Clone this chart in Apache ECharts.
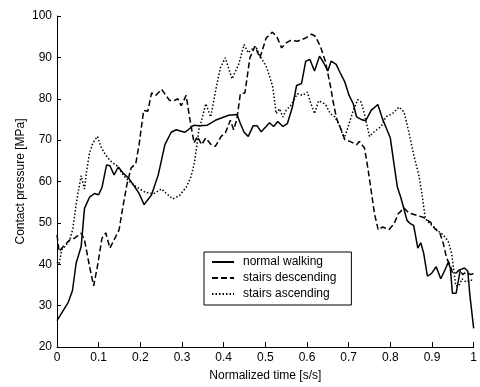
<!DOCTYPE html>
<html>
<head>
<meta charset="utf-8">
<script src="https://cdn.jsdelivr.net/npm/echarts@6/dist/echarts.min.js"></script>
<style>
  html, body { margin: 0; padding: 0; background: #fff; }
  #chart { width: 480px; height: 387px; }
</style>
</head>
<body>
<div id="chart"></div>
<script>
// curves as [time, pressure] pairs
const normalWalking = [
  [0, 26.4], [0.027, 30.8], [0.037, 33.6], [0.046, 40.3], [0.058, 44.3], [0.066, 53.5],
  [0.078, 56.2], [0.09, 57.1], [0.1, 56.8], [0.108, 58.6], [0.119, 64], [0.127, 63.8],
  [0.137, 61.6], [0.147, 63.5], [0.158, 62.1], [0.172, 60.8], [0.19, 58.2], [0.197, 57.1],
  [0.209, 54.4], [0.227, 56.8], [0.243, 61.6], [0.259, 68.9], [0.274, 71.9], [0.286, 72.5],
  [0.306, 71.9], [0.315, 72.5], [0.328, 73.6], [0.341, 73.5], [0.361, 73.6], [0.38, 74.8],
  [0.396, 75.4], [0.412, 76], [0.432, 76.2], [0.44, 74], [0.449, 71.9], [0.459, 70.9],
  [0.471, 73.5], [0.48, 73.5], [0.49, 72], [0.502, 73.3], [0.51, 74.2], [0.52, 73.3],
  [0.53, 74.5], [0.542, 73.3], [0.553, 74], [0.565, 78], [0.575, 83.2], [0.587, 83.7],
  [0.597, 89.1], [0.607, 89.5], [0.618, 86.7], [0.63, 90.3], [0.64, 88.7], [0.65, 86.7],
  [0.658, 89.1], [0.67, 88.3], [0.679, 86.4], [0.691, 84], [0.701, 80.8], [0.711, 78.8],
  [0.719, 75.6], [0.73, 75], [0.741, 74.7], [0.754, 77.2], [0.77, 78.6], [0.781, 75.2],
  [0.8, 70.5], [0.809, 64.1], [0.817, 58.6], [0.825, 56.2], [0.84, 50.6], [0.848, 49.8],
  [0.856, 49.4], [0.866, 43.9], [0.873, 45.2], [0.88, 42.7], [0.889, 37.1], [0.899, 37.8],
  [0.91, 39.4], [0.921, 36.5], [0.931, 38.6], [0.939, 40.5], [0.944, 39.1], [0.949, 33],
  [0.958, 33], [0.968, 38.7], [0.978, 39.1], [0.986, 38.3], [0.991, 32.4], [1, 24.5]
]

const stairsDescending = [
  [0, 47.1], [0.005, 43.1], [0.015, 44.3], [0.031, 45.9], [0.042, 46.3], [0.058, 47.5],
  [0.066, 45.9], [0.078, 39.5], [0.088, 34.8], [0.097, 39.5], [0.108, 46.3], [0.117, 47.6],
  [0.127, 43.9], [0.137, 45.9], [0.149, 48.3], [0.158, 53.8], [0.168, 59.4], [0.178, 63.3],
  [0.189, 64.3], [0.197, 68.9], [0.208, 77.2], [0.218, 77], [0.227, 81.4], [0.237, 80.8],
  [0.251, 82.3], [0.27, 79.6], [0.282, 79.6], [0.29, 80], [0.298, 78.3], [0.31, 80.8],
  [0.318, 75.6], [0.329, 69.3], [0.337, 70.9], [0.347, 68.9], [0.357, 70.5], [0.369, 69],
  [0.38, 68.5], [0.394, 70.9], [0.404, 71.7], [0.416, 74.8], [0.424, 72.5], [0.432, 75.2],
  [0.44, 81.2], [0.451, 81.4], [0.463, 89.9], [0.475, 92.7], [0.487, 89.9], [0.502, 94.7],
  [0.517, 96.1], [0.528, 94.9], [0.539, 92.3], [0.55, 93.5], [0.561, 94.1], [0.577, 93.9],
  [0.597, 94.7], [0.611, 95.6], [0.62, 95.1], [0.632, 92.7], [0.644, 89.1], [0.656, 83.2],
  [0.663, 79.2], [0.671, 75.2], [0.679, 73.3], [0.691, 70.1], [0.703, 69.7], [0.719, 68.9],
  [0.726, 69.7], [0.738, 68.1], [0.746, 63.3], [0.754, 57.8], [0.762, 52.2], [0.771, 48.3],
  [0.781, 49], [0.797, 48.4], [0.809, 49.8], [0.819, 52.2], [0.833, 53.6], [0.844, 52.4],
  [0.864, 51.8], [0.88, 51.3], [0.896, 50.2], [0.907, 48.6], [0.919, 47.5], [0.927, 45.1],
  [0.935, 41.5], [0.943, 39.9], [0.95, 37.8], [0.958, 37.9], [0.966, 38.7], [0.974, 37.5],
  [0.982, 38.1], [0.993, 37.5], [1, 37.8]
]

const stairsAscending = [
  [0, 40.5], [0.005, 40], [0.011, 43.5], [0.019, 44.3], [0.031, 45.9], [0.038, 48.6],
  [0.045, 53.8], [0.05, 57], [0.058, 61.4], [0.066, 58.2], [0.071, 62.5], [0.078, 66.9],
  [0.086, 69.3], [0.097, 70.9], [0.105, 68.5], [0.116, 66.5], [0.129, 64.9], [0.145, 63.7],
  [0.16, 61.4], [0.176, 59.8], [0.192, 58.6], [0.212, 57.4], [0.231, 57], [0.251, 58.2],
  [0.259, 57.4], [0.278, 55.8], [0.294, 56.6], [0.31, 58.6], [0.321, 61], [0.329, 64.1],
  [0.336, 68.9], [0.341, 72.9], [0.345, 74], [0.357, 78.8], [0.369, 75.6], [0.38, 81.6],
  [0.392, 87.5], [0.404, 89.9], [0.42, 84.8], [0.436, 88.3], [0.449, 93.1], [0.459, 91.1],
  [0.467, 91.9], [0.477, 92.7], [0.487, 90.3], [0.502, 87.9], [0.51, 85.5], [0.518, 82.8],
  [0.526, 76.4], [0.534, 77.6], [0.542, 75.6], [0.55, 77.2], [0.561, 78.4], [0.577, 81.2],
  [0.589, 80.8], [0.601, 81.6], [0.608, 79.2], [0.618, 76.4], [0.628, 79.5], [0.644, 78.7],
  [0.656, 76.4], [0.667, 75.6], [0.679, 73.3], [0.689, 70.3], [0.699, 73.3], [0.711, 77.2],
  [0.722, 79.8], [0.73, 79.2], [0.738, 76.2], [0.75, 70.9], [0.762, 72.1], [0.778, 73.3],
  [0.789, 75.6], [0.805, 76.4], [0.821, 78], [0.833, 76.8], [0.844, 72.1], [0.856, 66.5],
  [0.868, 61.7], [0.876, 57], [0.884, 51], [0.895, 49.8], [0.911, 48.3], [0.927, 47.1],
  [0.939, 45.5], [0.947, 42.7], [0.95, 40.3], [0.957, 34.8], [0.965, 34.8], [0.972, 36.5],
  [0.982, 35.7], [0.993, 36.2], [1, 36]
]

const seriesNames = ['normal walking', 'stairs descending', 'stairs ascending']
const xTitle = 'Normalized time [s/s]'
const yTitle = 'Contact pressure [MPa]'

const font = 'Arial, "Liberation Sans", sans-serif'

const lineSeries = function (name, data, type) {
  return {
    name: name,
    type: 'line',
    data: data,
    showSymbol: false,
    symbol: 'none',
    clip: true,
    lineStyle: { color: '#000', width: 1.5, type: type },
    itemStyle: { color: '#000' },
  }
}

const chart = echarts.init(document.getElementById('chart'))

chart.setOption({
  animation: false,
  backgroundColor: '#fff',
  textStyle: { fontFamily: font },
  grid: { left: 57, top: 16, width: 424, height: 336 },
  legend: {
    data: seriesNames,
    orient: 'vertical',
    left: 204,
    top: 252,
    itemWidth: 22,
    itemHeight: 10,
    itemGap: 2,
    padding: [3, 15, 4, 7],
    borderColor: '#000',
    borderWidth: 1,
    backgroundColor: '#fff',
    // hide the marker dot, keep only the line sample
    itemStyle: { opacity: 0 },
    lineStyle: { opacity: 1 },
    textStyle: { fontSize: 12, color: '#000', lineHeight: 14, padding: [0, 0, 0, 4] },
  },
  xAxis: {
    type: 'value',
    min: 0,
    max: 1,
    interval: 0.1,
    name: xTitle,
    nameLocation: 'middle',
    nameGap: 23,
    nameTextStyle: { fontSize: 12, color: '#000' },
    splitLine: { show: false },
    axisLine: { lineStyle: { color: '#000', width: 1 } },
    axisTick: { inside: true, length: 5, lineStyle: { color: '#000' } },
    axisLabel: { fontSize: 12, color: '#000', margin: 5 },
  },
  yAxis: {
    type: 'value',
    min: 20,
    max: 100,
    interval: 10,
    name: yTitle,
    nameLocation: 'middle',
    nameGap: 30,
    nameMoveOverlap: false,
    nameTextStyle: { fontSize: 12, color: '#000' },
    splitLine: { show: false },
    axisLine: { show: true, lineStyle: { color: '#000', width: 1 } },
    axisTick: { show: true, inside: true, length: 4, lineStyle: { color: '#000' } },
    axisLabel: { fontSize: 12, color: '#000', margin: 5 },
  },
  series: [
    lineSeries(seriesNames[0], normalWalking, 'solid'),
    lineSeries(seriesNames[1], stairsDescending, [6, 3]),
    lineSeries(seriesNames[2], stairsAscending, [1.5, 2]),
  ],
})

window.addEventListener('resize', function () {
  chart.resize()
})
</script>
</body>
</html>
